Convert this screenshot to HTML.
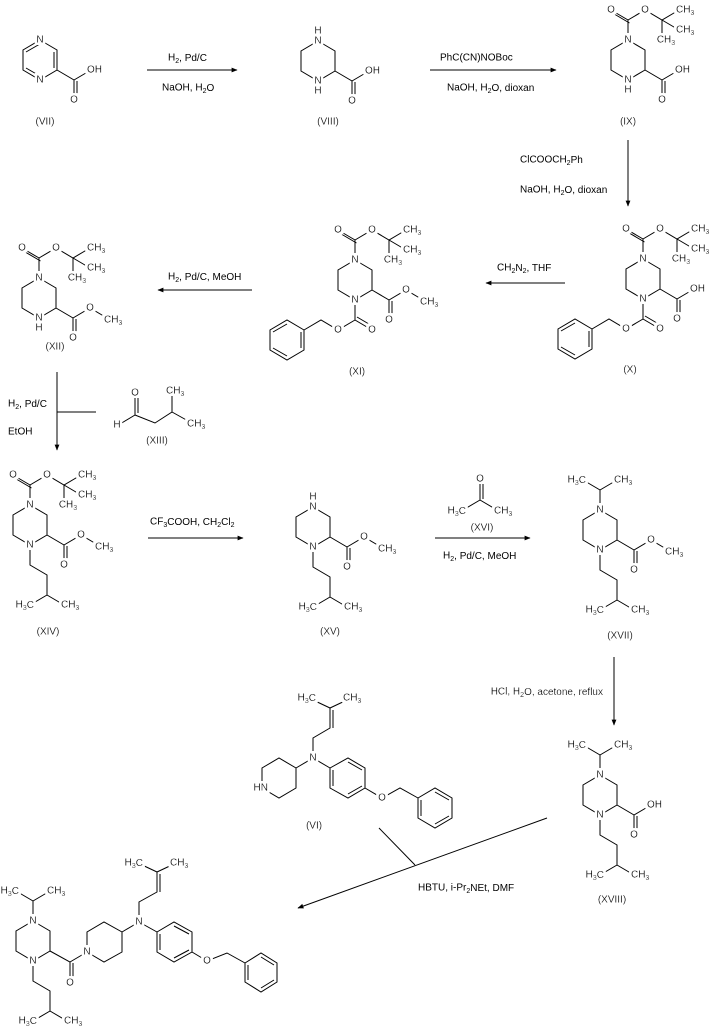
<!DOCTYPE html>
<html><head><meta charset="utf-8"><style>
html,body{margin:0;padding:0;background:#fff;}
svg{display:block;}
text{font-family:"Liberation Sans",Arial,sans-serif;font-size:10px;fill:#000;dominant-baseline:central;}
.t{text-anchor:middle;filter:url(#bg);}
.s{text-anchor:start;filter:url(#bg);}
.e{text-anchor:end;filter:url(#bg);}
.r{text-anchor:start;}
.b{fill:none;stroke:#000;stroke-width:1;}
tspan.sub{font-size:7px;}
</style></head><body>
<svg width="715" height="1036" viewBox="0 0 715 1036" xmlns="http://www.w3.org/2000/svg">
<defs>
<filter id="bg" x="-30%" y="-30%" width="160%" height="160%">
<feMorphology in="SourceAlpha" operator="dilate" radius="2.5" result="d"/>
<feFlood flood-color="#fff"/>
<feComposite in2="d" operator="in"/>
<feMerge><feMergeNode/><feMergeNode in="SourceGraphic"/></feMerge>
</filter>
<marker id="ah" viewBox="0 0 10 10" refX="9" refY="5" markerWidth="8" markerHeight="6" orient="auto" markerUnits="userSpaceOnUse"><path d="M0,1 L10,5 L0,9 Z" fill="#000"/></marker>
<polygon id="pip" class="b" points="0,0 17,10 17,30 0,40 -17,30 -17,10"/>
<path id="boc" class="b" d="M0,0 V-20 L-17,-30 M1.5,-17 L-15.5,-27 M0,-20 L17,-30 L34,-20 L51,-30 M34,-20 L51,-10 M34,-20 L34,-4"/>
<path id="ester" class="b" d="M17,30 L34,40 L34,60 M37,41 L37,60 M34,40 L51,30 L68,40"/>
<path id="cooh" class="b" d="M17,30 L34,40 L34,60 M37,41 L37,60 M34,40 L51,30"/>
<path id="iso" class="b" d="M0,40 L0,60 L17,70 L17,90 L0,100 M17,90 L34,100"/>
<path id="ipr" class="b" d="M0,0 L0,-20 L-17,-30 M0,-20 L17,-30"/>
<path id="cbz" class="b" d="M0,40 L0,60 L17,70 M2,57 L19,67 M0,60 L-17,70 L-34,60 L-51,70 M-51,70 L-68,60 L-85,70 L-85,90 L-68,100 L-51,90 L-51,70 M-54,72 L-54,88 M-68,64 L-82,72 M-82,88 L-68,96"/>
</defs>

<!-- VII -->
<g transform="translate(40,40)">
<path class="b" d="M0,0 L17,10 L17,30 L0,40 L-17,30 L-17,10 Z M14,12 L14,28 M-14,12 L-1,4.5 M-14,28 L-1,35.5 M17,30 L34,40 L34,60 M37,41 L37,60 M34,40 L51,30"/>
<text class="t" x="0" y="0">N</text><text class="t" x="0" y="40">N</text>
<text class="t" x="34" y="60">O</text><text class="s" x="47" y="30">OH</text>
</g>
<text class="t" x="45" y="122">(VII)</text>
<line class="b" x1="147" y1="70" x2="237" y2="70" marker-end="url(#ah)"/>
<text class="r" x="168" y="58">H<tspan class="sub" dy="3">2</tspan><tspan dy="-3">, Pd/C</tspan></text>
<text class="r" x="162" y="88">NaOH, H<tspan class="sub" dy="3">2</tspan><tspan dy="-3">O</tspan></text>

<!-- VIII -->
<g transform="translate(318,41)">
<use href="#pip"/><use href="#cooh"/>
<text class="t" x="0" y="0">N</text><text class="t" x="0" y="-10">H</text>
<text class="t" x="0" y="40">N</text><text class="t" x="0" y="50">H</text>
<text class="t" x="34" y="60">O</text><text class="s" x="47" y="30">OH</text>
</g>
<text class="t" x="328" y="122">(VIII)</text>
<line class="b" x1="430" y1="70" x2="556" y2="70" marker-end="url(#ah)"/>
<text class="r" x="440" y="58">PhC(CN)NOBoc</text>
<text class="r" x="447" y="88">NaOH, H<tspan class="sub" dy="3">2</tspan><tspan dy="-3">O, dioxan</tspan></text>

<!-- IX -->
<g transform="translate(628,40)">
<use href="#pip"/><use href="#boc"/><use href="#cooh"/>
<text class="t" x="0" y="0">N</text><text class="t" x="0" y="40">N</text><text class="t" x="0" y="50">H</text>
<text class="t" x="-17" y="-30">O</text><text class="t" x="17" y="-30">O</text>
<text class="s" x="48" y="-30">CH<tspan class="sub" dy="3">3</tspan></text>
<text class="s" x="48" y="-10">CH<tspan class="sub" dy="3">3</tspan></text>
<text class="t" x="38" y="0">CH<tspan class="sub" dy="3">3</tspan></text>
<text class="t" x="34" y="60">O</text><text class="s" x="47" y="30">OH</text>
</g>
<text class="t" x="628" y="122">(IX)</text>
<line class="b" x1="628" y1="140" x2="628" y2="206" marker-end="url(#ah)"/>
<text class="r" x="520" y="160">ClCOOCH<tspan class="sub" dy="3">2</tspan><tspan dy="-3">Ph</tspan></text>
<text class="r" x="520" y="190">NaOH, H<tspan class="sub" dy="3">2</tspan><tspan dy="-3">O, dioxan</tspan></text>

<!-- X -->
<g transform="translate(643,259)">
<use href="#pip"/><use href="#boc"/><use href="#cooh"/><use href="#cbz"/>
<text class="t" x="0" y="0">N</text><text class="t" x="0" y="40">N</text>
<text class="t" x="-17" y="-30">O</text><text class="t" x="17" y="-30">O</text>
<text class="s" x="48" y="-30">CH<tspan class="sub" dy="3">3</tspan></text>
<text class="s" x="48" y="-10">CH<tspan class="sub" dy="3">3</tspan></text>
<text class="t" x="38" y="0">CH<tspan class="sub" dy="3">3</tspan></text>
<text class="t" x="34" y="60">O</text><text class="s" x="47" y="30">OH</text>
<text class="t" x="17" y="70">O</text><text class="t" x="-17" y="70">O</text>
</g>
<text class="t" x="630" y="370">(X)</text>
<line class="b" x1="565" y1="283" x2="486" y2="283" marker-end="url(#ah)"/>
<text class="r" x="497" y="268">CH<tspan class="sub" dy="3">2</tspan><tspan dy="-3">N</tspan><tspan class="sub" dy="3">2</tspan><tspan dy="-3">, THF</tspan></text>

<!-- XI -->
<g transform="translate(355,260)">
<use href="#pip"/><use href="#boc"/><use href="#ester"/><use href="#cbz"/>
<text class="t" x="0" y="0">N</text><text class="t" x="0" y="40">N</text>
<text class="t" x="-17" y="-30">O</text><text class="t" x="17" y="-30">O</text>
<text class="s" x="48" y="-30">CH<tspan class="sub" dy="3">3</tspan></text>
<text class="s" x="48" y="-10">CH<tspan class="sub" dy="3">3</tspan></text>
<text class="t" x="38" y="0">CH<tspan class="sub" dy="3">3</tspan></text>
<text class="t" x="34" y="60">O</text><text class="t" x="51" y="30">O</text>
<text class="s" x="65" y="42">CH<tspan class="sub" dy="3">3</tspan></text>
<text class="t" x="17" y="70">O</text><text class="t" x="-17" y="70">O</text>
</g>
<text class="t" x="357" y="372">(XI)</text>
<line class="b" x1="252" y1="290" x2="158" y2="290" marker-end="url(#ah)"/>
<text class="r" x="168" y="277">H<tspan class="sub" dy="3">2</tspan><tspan dy="-3">, Pd/C, MeOH</tspan></text>

<!-- XII -->
<g transform="translate(39,278)">
<use href="#pip"/><use href="#boc"/><use href="#ester"/>
<text class="t" x="0" y="0">N</text><text class="t" x="0" y="40">N</text><text class="t" x="0" y="50">H</text>
<text class="t" x="-17" y="-30">O</text><text class="t" x="17" y="-30">O</text>
<text class="s" x="48" y="-30">CH<tspan class="sub" dy="3">3</tspan></text>
<text class="s" x="48" y="-10">CH<tspan class="sub" dy="3">3</tspan></text>
<text class="t" x="38" y="0">CH<tspan class="sub" dy="3">3</tspan></text>
<text class="t" x="34" y="60">O</text><text class="t" x="51" y="30">O</text>
<text class="s" x="65" y="42">CH<tspan class="sub" dy="3">3</tspan></text>
</g>
<text class="t" x="55" y="347">(XII)</text>

<line class="b" x1="57" y1="372" x2="57" y2="450" marker-end="url(#ah)"/>
<line class="b" x1="57" y1="412" x2="96" y2="412"/>
<text class="r" x="8" y="404">H<tspan class="sub" dy="3">2</tspan><tspan dy="-3">, Pd/C</tspan></text>
<text class="r" x="8" y="432">EtOH</text>
<!-- XIII -->
<path class="b" d="M135,393 L135,415 M138,395 L138,413 M135,415 L120,424 M135,415 L155,423 L172,412 L172,394 M172,412 L190,422"/>
<text class="t" x="135" y="393">O</text><text class="t" x="117" y="425">H</text>
<text class="s" x="166" y="391">CH<tspan class="sub" dy="3">3</tspan></text>
<text class="s" x="187" y="424">CH<tspan class="sub" dy="3">3</tspan></text>
<text class="t" x="157" y="441">(XIII)</text>

<!-- XIV -->
<g transform="translate(30,505)">
<use href="#pip"/><use href="#boc"/><use href="#ester"/><use href="#iso"/>
<text class="t" x="0" y="0">N</text><text class="t" x="0" y="40">N</text>
<text class="t" x="-17" y="-30">O</text><text class="t" x="17" y="-30">O</text>
<text class="s" x="48" y="-30">CH<tspan class="sub" dy="3">3</tspan></text>
<text class="s" x="48" y="-10">CH<tspan class="sub" dy="3">3</tspan></text>
<text class="t" x="38" y="0">CH<tspan class="sub" dy="3">3</tspan></text>
<text class="t" x="34" y="60">O</text><text class="t" x="51" y="30">O</text>
<text class="s" x="65" y="42">CH<tspan class="sub" dy="3">3</tspan></text>
<text class="e" x="4" y="100">H<tspan class="sub" dy="3">3</tspan><tspan dy="-3">C</tspan></text>
<text class="s" x="31" y="100">CH<tspan class="sub" dy="3">3</tspan></text>
</g>
<text class="t" x="48" y="632">(XIV)</text>
<line class="b" x1="148" y1="538" x2="243" y2="538" marker-end="url(#ah)"/>
<text class="r" x="150" y="522">CF<tspan class="sub" dy="3">3</tspan><tspan dy="-3">COOH, CH</tspan><tspan class="sub" dy="3">2</tspan><tspan dy="-3">Cl</tspan><tspan class="sub" dy="3">2</tspan></text>

<!-- XV -->
<g transform="translate(313,507)">
<use href="#pip"/><use href="#ester"/><use href="#iso"/>
<text class="t" x="0" y="0">N</text><text class="t" x="0" y="-10">H</text><text class="t" x="0" y="40">N</text>
<text class="t" x="34" y="60">O</text><text class="t" x="51" y="30">O</text>
<text class="s" x="65" y="42">CH<tspan class="sub" dy="3">3</tspan></text>
<text class="e" x="4" y="100">H<tspan class="sub" dy="3">3</tspan><tspan dy="-3">C</tspan></text>
<text class="s" x="31" y="100">CH<tspan class="sub" dy="3">3</tspan></text>
</g>
<text class="t" x="330" y="632">(XV)</text>

<!-- XVI + arrow -->
<path class="b" d="M480,480 L480,500 M483,481 L483,499 M480,500 L463,510 M480,500 L497,510"/>
<text class="t" x="480" y="479">O</text>
<text class="e" x="466" y="511">H<tspan class="sub" dy="3">3</tspan><tspan dy="-3">C</tspan></text>
<text class="s" x="494" y="511">CH<tspan class="sub" dy="3">3</tspan></text>
<text class="t" x="482" y="528">(XVI)</text>
<line class="b" x1="435" y1="538" x2="530" y2="538" marker-end="url(#ah)"/>
<text class="r" x="443" y="556">H<tspan class="sub" dy="3">2</tspan><tspan dy="-3">, Pd/C, MeOH</tspan></text>

<!-- XVII -->
<g transform="translate(600,510)">
<use href="#pip"/><use href="#ipr"/><use href="#ester"/><use href="#iso"/>
<text class="t" x="0" y="0">N</text><text class="t" x="0" y="40">N</text>
<text class="e" x="-14" y="-30">H<tspan class="sub" dy="3">3</tspan><tspan dy="-3">C</tspan></text>
<text class="s" x="14" y="-30">CH<tspan class="sub" dy="3">3</tspan></text>
<text class="t" x="34" y="60">O</text><text class="t" x="51" y="30">O</text>
<text class="s" x="65" y="42">CH<tspan class="sub" dy="3">3</tspan></text>
<text class="e" x="4" y="100">H<tspan class="sub" dy="3">3</tspan><tspan dy="-3">C</tspan></text>
<text class="s" x="31" y="100">CH<tspan class="sub" dy="3">3</tspan></text>
</g>
<text class="t" x="620" y="636">(XVII)</text>
<line class="b" x1="614" y1="657" x2="614" y2="725" marker-end="url(#ah)"/>
<text class="e" x="603" y="692">HCl, H<tspan class="sub" dy="3">2</tspan><tspan dy="-3">O, acetone, reflux</tspan></text>

<!-- XVIII -->
<g transform="translate(600,775)">
<use href="#pip"/><use href="#ipr"/><use href="#cooh"/><use href="#iso"/>
<text class="t" x="0" y="0">N</text><text class="t" x="0" y="40">N</text>
<text class="e" x="-14" y="-30">H<tspan class="sub" dy="3">3</tspan><tspan dy="-3">C</tspan></text>
<text class="s" x="14" y="-30">CH<tspan class="sub" dy="3">3</tspan></text>
<text class="t" x="34" y="60">O</text><text class="s" x="47" y="30">OH</text>
<text class="e" x="4" y="100">H<tspan class="sub" dy="3">3</tspan><tspan dy="-3">C</tspan></text>
<text class="s" x="31" y="100">CH<tspan class="sub" dy="3">3</tspan></text>
</g>
<text class="t" x="612" y="900">(XVIII)</text>

<!-- VI -->
<path class="b" d="M262,788 L262,768 L279,758 L296,768 L296,788 L279,798 Z M296,768 L313,758 L313,738 L330,728 L330,708 L313,700 M333,728 L333,710 M330,708 L347,700 M313,758 L330,768 M330,768 L348,758 L365,768 L365,788 L348,798 L330,788 L330,768 M333,770 L333,786 M348,762 L362,770 M348,794 L362,786 M365,788 L382,798 L400,788 L418,798 M418,798 L435,788 L452,798 L452,818 L435,828 L418,818 L418,798 M421,800 L421,816 M435,792 L449,800 M435,824 L449,816"/>
<text class="e" x="268" y="788">HN</text>
<text class="t" x="313" y="758">N</text>
<text class="t" x="382" y="798">O</text>
<text class="e" x="316" y="698">H<tspan class="sub" dy="3">3</tspan><tspan dy="-3">C</tspan></text>
<text class="s" x="343" y="698">CH<tspan class="sub" dy="3">3</tspan></text>
<text class="t" x="314" y="826">(VI)</text>

<!-- coupling arrow -->
<line class="b" x1="547" y1="818" x2="298" y2="908" marker-end="url(#ah)"/>
<line class="b" x1="379" y1="828" x2="415" y2="865"/>
<text class="r" x="418" y="888">HBTU, i-Pr<tspan class="sub" dy="3">2</tspan><tspan dy="-3">NEt, DMF</tspan></text>

<!-- final -->
<g transform="translate(33,921)">
<use href="#pip"/><use href="#ipr"/><use href="#iso"/>
<path class="b" d="M17,30 L37,41 L37,61 M40,42 L40,61 M37,41 L54,31"/>
<text class="t" x="0" y="0">N</text><text class="t" x="0" y="40">N</text>
<text class="e" x="-14" y="-30">H<tspan class="sub" dy="3">3</tspan><tspan dy="-3">C</tspan></text>
<text class="s" x="14" y="-30">CH<tspan class="sub" dy="3">3</tspan></text>
<text class="t" x="37" y="62">O</text>
<text class="e" x="4" y="100">H<tspan class="sub" dy="3">3</tspan><tspan dy="-3">C</tspan></text>
<text class="s" x="31" y="100">CH<tspan class="sub" dy="3">3</tspan></text>
</g>
<path class="b" d="M87,952 L87,932 L104,922 L122,932 L122,952 L104,962 Z M122,932 L139,922 L139,902 L157,892 L157,872 L140,864 M160,892 L160,874 M157,872 L174,864 M139,922 L157,932 M157,932 L174,922 L192,932 L192,952 L174,962 L157,952 L157,932 M160,934 L160,950 M174,926 L189,934 M174,958 L189,950 M192,952 L207,961 L227,953 L245,963 M245,963 L261,953 L277,963 L277,982 L261,992 L245,982 L245,963 M248,965 L248,980 M261,957 L274,965 M261,988 L274,980"/>
<text class="t" x="87" y="952">N</text>
<text class="t" x="139" y="922">N</text>
<text class="t" x="207" y="961">O</text>
<text class="e" x="143" y="863">H<tspan class="sub" dy="3">3</tspan><tspan dy="-3">C</tspan></text>
<text class="s" x="170" y="863">CH<tspan class="sub" dy="3">3</tspan></text>
</svg>
</body></html>
